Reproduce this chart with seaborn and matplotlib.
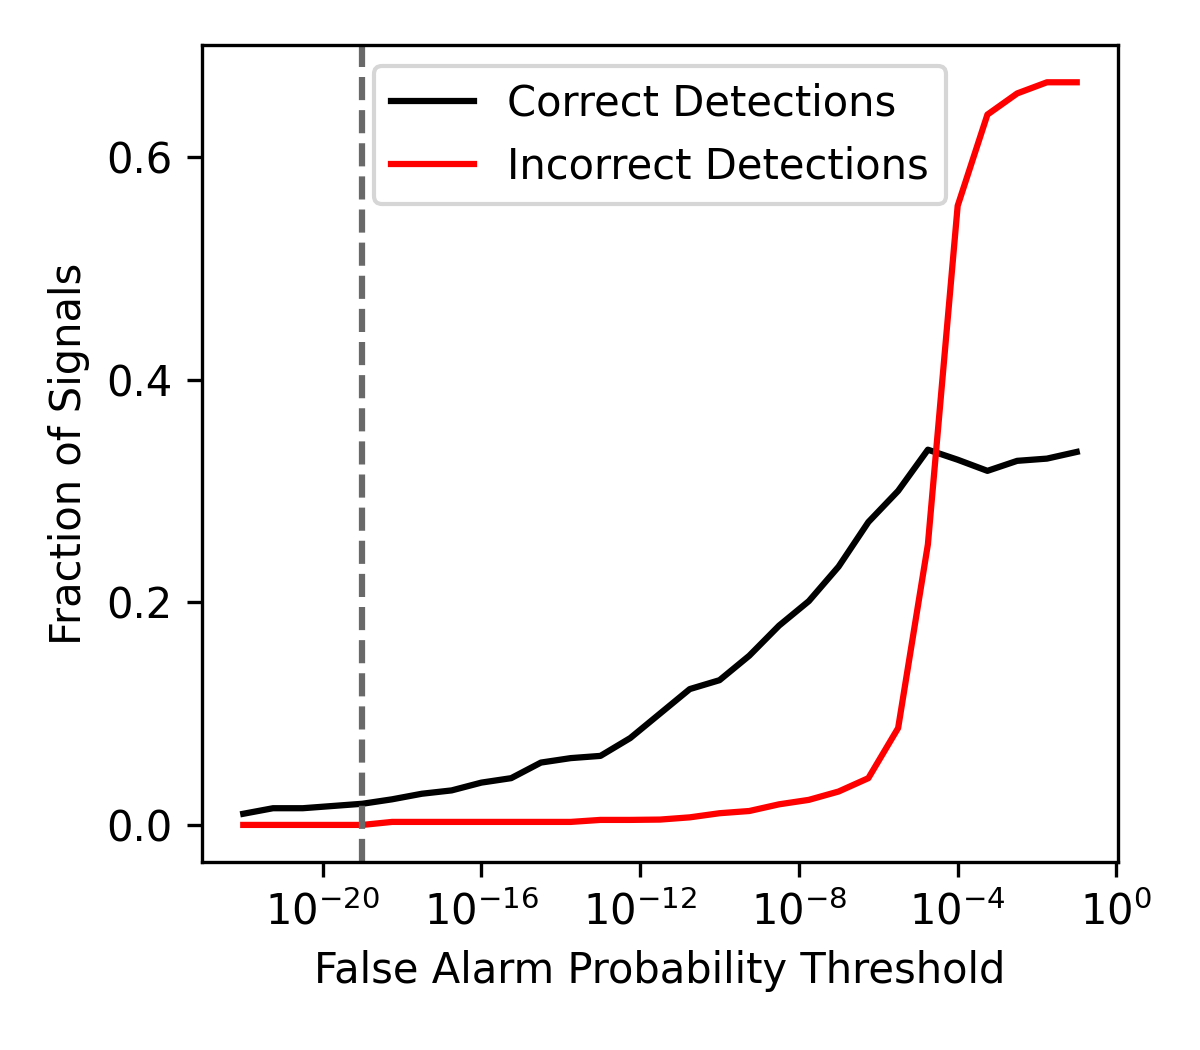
import numpy as np
import pandas as pd
import matplotlib
matplotlib.use('Agg')
import matplotlib.pyplot as plt
from matplotlib.ticker import MultipleLocator, NullLocator
import seaborn as sns

# log10 of the false alarm probability threshold
exponents = [-22, -21.25, -20.5, -19.75, -19, -18.25, -17.5, -16.75, -16,
             -15.25, -14.5, -13.75, -13, -12.25, -11.5, -10.75, -10, -9.25,
             -8.5, -7.75, -7, -6.25, -5.5, -4.75, -4, -3.25, -2.5, -1.75, -1]

correct = [0.010, 0.015, 0.015, 0.017, 0.019, 0.023, 0.028, 0.031, 0.038,
           0.042, 0.056, 0.060, 0.062, 0.078, 0.100, 0.122, 0.130, 0.152,
           0.179, 0.201, 0.232, 0.272, 0.300, 0.337, 0.328, 0.318, 0.327,
           0.329, 0.335]

incorrect = [0.0, 0.0, 0.0, 0.0, 0.0, 0.0027, 0.0027, 0.0027, 0.0027,
             0.0027, 0.0027, 0.0027, 0.0045, 0.0045, 0.0048, 0.0068, 0.0105,
             0.0125, 0.0185, 0.0225, 0.030, 0.042, 0.087, 0.252, 0.556,
             0.638, 0.657, 0.667, 0.667]

fap_cut = 1e-19

df = pd.DataFrame({'threshold': 10.0 ** np.array(exponents),
                   'correct': correct,
                   'incorrect': incorrect})

fig, ax = plt.subplots(figsize=(4, 3.5), dpi=300)
sns.lineplot(data=df, x='threshold', y='correct', color='black',
             label='Correct Detections', ax=ax)
sns.lineplot(data=df, x='threshold', y='incorrect', color='red',
             label='Incorrect Detections', ax=ax)
ax.axvline(fap_cut, color='dimgray', linestyle='--')
ax.set_xscale('log')
ax.xaxis.set_minor_locator(NullLocator())
ax.yaxis.set_major_locator(MultipleLocator(0.2))
ax.set_xlabel('False Alarm Probability Threshold')
ax.set_ylabel('Fraction of Signals')
ax.legend(loc='upper center')

fig.subplots_adjust(left=0.168, right=0.932, top=0.957, bottom=0.179)
fig.savefig('out.png', dpi=300)
